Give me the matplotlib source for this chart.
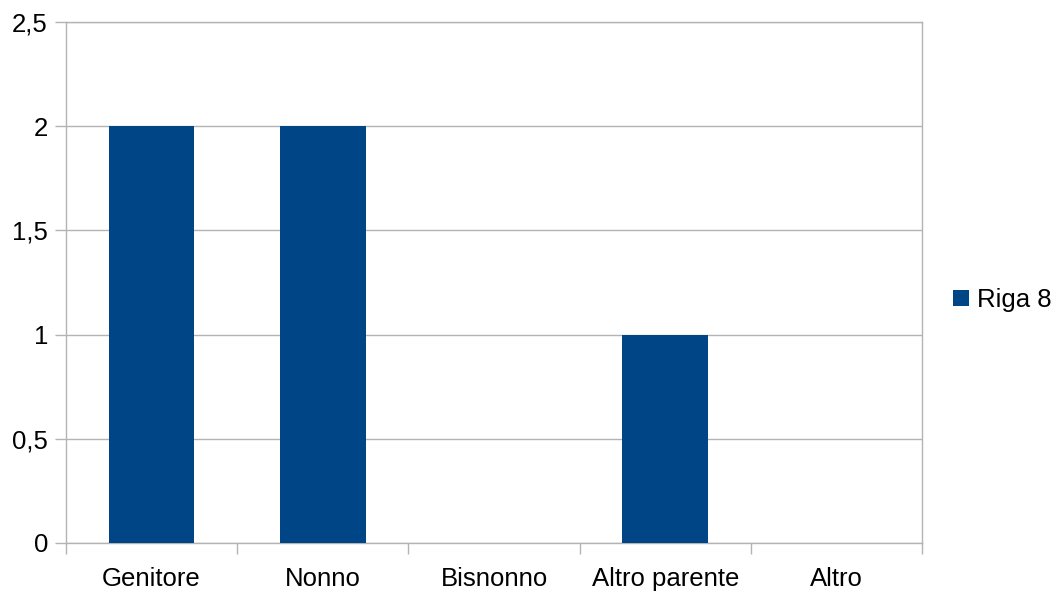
import matplotlib
matplotlib.use("Agg")
import matplotlib.pyplot as plt
import numpy as np

categories = ["Genitore", "Nonno", "Bisnonno", "Altro parente", "Altro"]
riga8 = [2, 2, 0, 1, 0]
yticks = [0, 0.5, 1, 1.5, 2, 2.5]
ytick_labels = ["0", "0,5", "1", "1,5", "2", "2,5"]

plt.rcParams["font.family"] = ["Liberation Sans", "DejaVu Sans"]
grey = "#b3b3b3"

fig = plt.figure(figsize=(10.57, 5.92), dpi=100)
ax = fig.add_axes([66 / 1057, 1 - 543 / 592, (922 - 66) / 1057, (543 - 22) / 592])

x = np.arange(len(categories))
ax.bar(x, riga8, width=0.5, color="#004586", label="Riga 8", zorder=3)

ax.set_xlim(-0.5, len(categories) - 0.5)
ax.set_ylim(0, 2.5)
ax.set_yticks(yticks)
ax.set_yticklabels(ytick_labels)
ax.set_xticks(x)
ax.set_xticklabels(categories)
ax.set_xticks(np.arange(len(categories) + 1) - 0.5, minor=True)

ax.grid(axis="y", color=grey, linewidth=1, zorder=0)
for s in ax.spines.values():
    s.set_color(grey)
    s.set_linewidth(1)

ax.tick_params(axis="x", which="major", length=0, pad=17, labelsize=18.5)
ax.tick_params(axis="x", which="minor", length=8, color=grey, width=1)
ax.tick_params(axis="y", length=8, color=grey, width=1, pad=5, labelsize=18.5)

fig.legend(loc="center left", bbox_to_anchor=(953 / 1057, 1 - 300 / 592),
           frameon=False, borderpad=0, borderaxespad=0, handlelength=0.62,
           handleheight=0.62, handletextpad=0.3, fontsize=18.5)

fig.savefig("out.png", dpi=100)
